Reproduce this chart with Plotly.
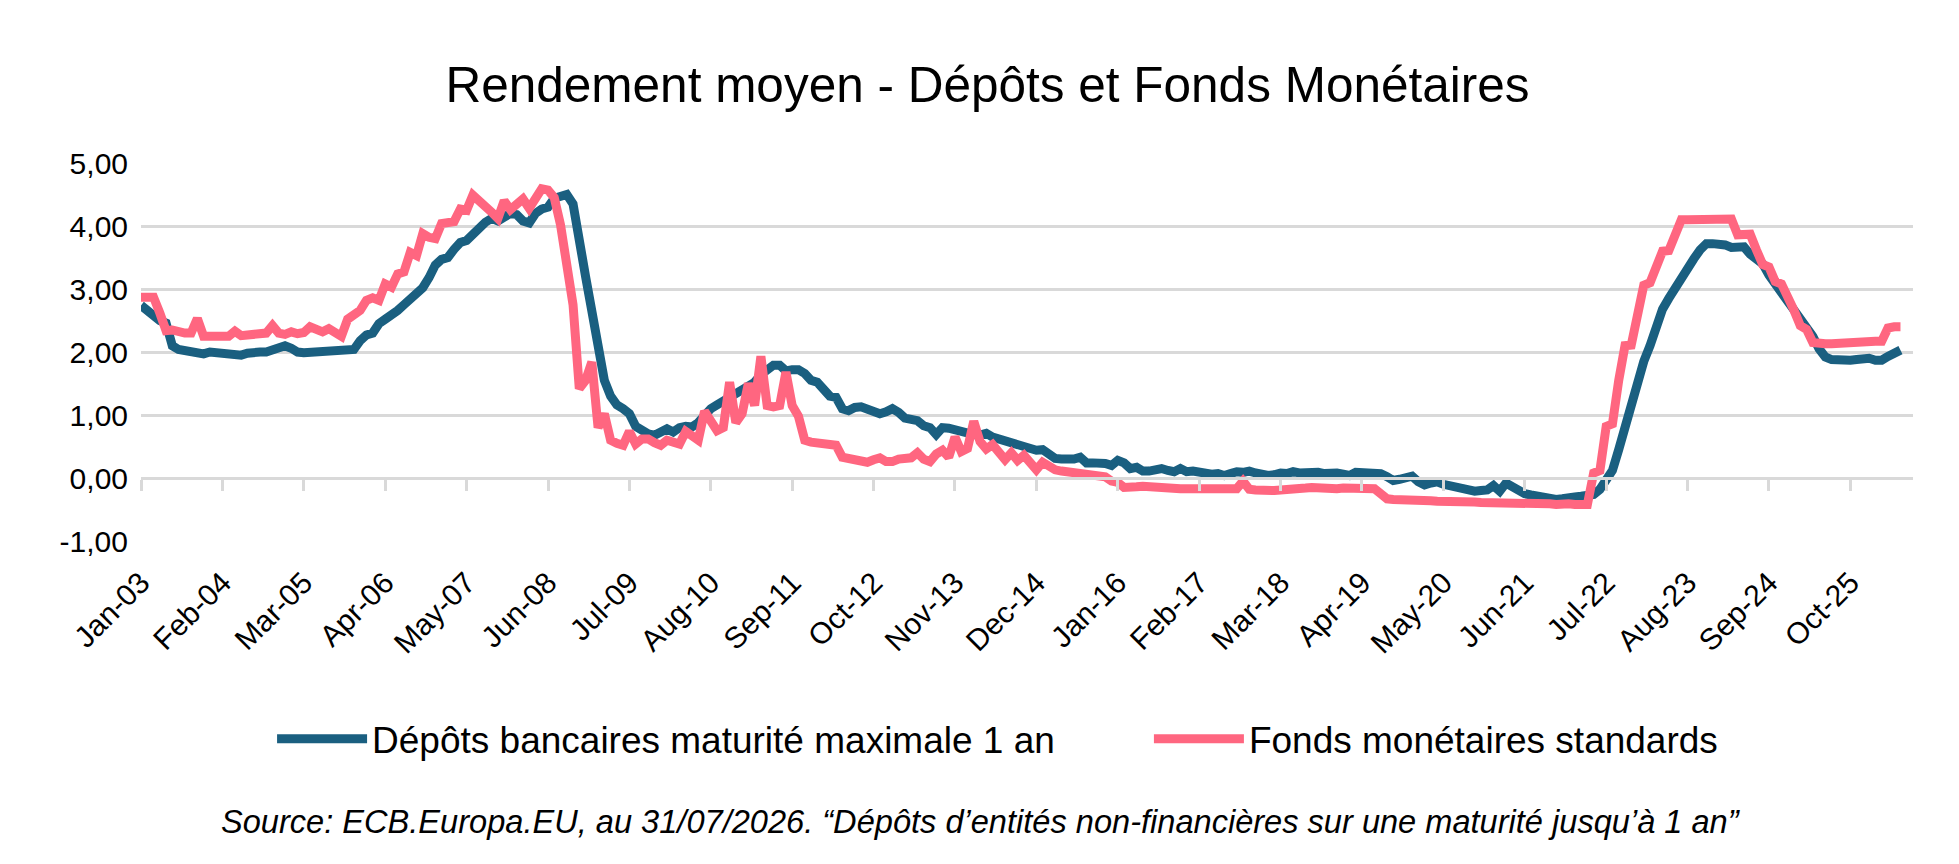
"""
Rendement moyen - Dépôts et Fonds Monétaires
Deux séries mensuelles (Jan-03 → Jun-26), axe catégoriel, libellés tous les 13 mois.
"""

import pandas as pd
import plotly.graph_objects as go

# ── Couleurs ─────────────────────────────────────────────────────────────────
C_DEPOTS = '#1A5F80'
C_FONDS  = '#FF6680'
C_GRID   = '#D9D9D9'
C_TEXT   = '#000000'
FONT     = 'Liberation Sans, Arial, sans-serif'

# ── Données (une ligne = une année) ──────────────────────────────────────────
DEPOTS = [
    2.74, 2.66, 2.57, 2.50, 2.46, 2.10, 2.04, 2.03, 2.02, 1.99, 1.97, 2.00,   # 2003
    1.99, 1.97, 1.95, 1.95, 1.95, 1.98, 2.00, 2.00, 2.00, 2.04, 2.06, 2.10,   # 2004
    2.06, 2.00, 1.99, 2.00, 2.00, 2.01, 2.01, 2.02, 2.03, 2.03, 2.04, 2.18,   # 2005
    2.27, 2.30, 2.45, 2.52, 2.58, 2.66, 2.75, 2.84, 2.93, 3.02, 3.18, 3.38,   # 2006
    3.47, 3.50, 3.63, 3.74, 3.77, 3.87, 4.00, 4.06, 4.12, 4.08, 4.14, 4.20,   # 2007
    4.18, 4.08, 4.05, 4.20, 4.27, 4.30, 4.44, 4.46, 4.50, 4.35, 3.85, 3.20,   # 2008
    2.65, 2.05, 1.55, 1.30, 1.16, 1.10, 1.02, 0.82, 0.74, 0.70, 0.68, 0.75,   # 2009
    0.78, 0.73, 0.80, 0.82, 0.81, 0.88, 1.00, 1.10, 1.16, 1.22, 1.26, 1.30,   # 2010
    1.36, 1.43, 1.52, 1.64, 1.72, 1.79, 1.79, 1.70, 1.72, 1.72, 1.66, 1.55,   # 2011
    1.52, 1.38, 1.30, 1.28, 1.10, 1.07, 1.12, 1.13, 1.10, 1.08, 1.02, 1.05,   # 2012
    1.10, 1.04, 0.95, 0.93, 0.91, 0.83, 0.80, 0.69, 0.80, 0.79, 0.76, 0.74,   # 2013
    0.71, 0.69, 0.68, 0.71, 0.65, 0.62, 0.61, 0.56, 0.52, 0.50, 0.49, 0.44,   # 2014
    0.45, 0.38, 0.31, 0.30, 0.29, 0.30, 0.33, 0.24, 0.24, 0.25, 0.23, 0.20,   # 2015
    0.28, 0.24, 0.15, 0.17, 0.11, 0.11, 0.13, 0.15, 0.12, 0.10, 0.15, 0.10,   # 2016
    0.11, 0.09, 0.06, 0.06, 0.07, 0.04, 0.07, 0.10, 0.09, 0.11, 0.08, 0.05,   # 2017
    0.04, 0.05, 0.08, 0.07, 0.10, 0.08, 0.09, 0.09, 0.09, 0.07, 0.08, 0.08,   # 2018
    0.06, 0.04, 0.09, 0.08, 0.06, 0.06, 0.07, 0.02, -0.04, -0.02, -0.01, 0.03,  # 2019
    -0.06, -0.11, -0.08, -0.06, -0.10, -0.12, -0.16, -0.19, -0.20, -0.21, -0.20, -0.19,  # 2020
    -0.12, -0.21, -0.08, -0.14, -0.20, -0.25, -0.27, -0.29, -0.33, -0.33, -0.34, -0.33,  # 2021
    -0.30, -0.30, -0.29, -0.29, -0.26, -0.18, -0.02, 0.12, 0.45, 0.80, 1.20, 1.60,  # 2022
    1.85, 2.10, 2.40, 2.68, 2.85, 3.02, 3.20, 3.32, 3.48, 3.62, 3.72, 3.72,   # 2023
    3.72, 3.70, 3.66, 3.68, 3.67, 3.55, 3.46, 3.40, 3.22, 3.08, 2.92, 2.80,   # 2024
    2.65, 2.50, 2.40, 2.25, 2.05, 1.92, 1.88, 1.87, 1.87, 1.87, 1.88, 1.89,   # 2025
    1.90, 1.87, 1.87, 1.93, 1.98, 2.03,                                       # 2026
]

FONDS = [
    2.87, 2.86, 2.87, 2.62, 2.34, 2.35, 2.32, 2.30, 2.30, 2.53, 2.25, 2.25,   # 2003
    2.25, 2.25, 2.25, 2.33, 2.26, 2.27, 2.29, 2.29, 2.30, 2.42, 2.30, 2.28,   # 2004
    2.32, 2.29, 2.31, 2.40, 2.34, 2.32, 2.37, 2.29, 2.25, 2.52, 2.58, 2.66,   # 2005
    2.82, 2.86, 2.82, 3.08, 3.03, 3.24, 3.27, 3.58, 3.53, 3.88, 3.82, 3.80,   # 2006
    4.04, 4.06, 4.07, 4.27, 4.25, 4.49, 4.40, 4.35, 4.22, 4.12, 4.40, 4.26,   # 2007
    4.36, 4.43, 4.28, 4.47, 4.59, 4.57, 4.45, 4.02, 3.45, 2.75, 1.42, 1.55,   # 2008
    1.84, 0.80, 1.02, 0.60, 0.55, 0.52, 0.74, 0.54, 0.62, 0.62, 0.56, 0.52,   # 2009
    0.60, 0.56, 0.54, 0.74, 0.68, 0.60, 1.06, 0.92, 0.75, 0.80, 1.52, 0.88,   # 2010
    1.02, 1.50, 1.15, 1.93, 1.15, 1.13, 1.15, 1.68, 1.15, 0.98, 0.60, 0.57,   # 2011
    0.56, 0.53, 0.53, 0.52, 0.33, 0.31, 0.31, 0.28, 0.25, 0.29, 0.32, 0.26,   # 2012
    0.26, 0.30, 0.31, 0.32, 0.40, 0.30, 0.26, 0.38, 0.44, 0.33, 0.65, 0.42,   # 2013
    0.47, 0.90, 0.58, 0.46, 0.53, 0.40, 0.29, 0.40, 0.28, 0.36, 0.22, 0.13,   # 2014
    0.25, 0.18, 0.13, 0.11, 0.10, 0.08, 0.07, 0.05, 0.05, 0.06, 0.02, -0.05,  # 2015
    -0.07, -0.15, -0.16, -0.14, -0.13, -0.14, -0.15, -0.16, -0.18, -0.18, -0.17, -0.17,  # 2016
    -0.17, -0.18, -0.18, -0.18, -0.18, -0.18, -0.18, -0.17, -0.05, -0.18, -0.19, -0.20,  # 2017
    -0.20, -0.20, -0.19, -0.19, -0.18, -0.17, -0.16, -0.15, -0.16, -0.18, -0.17, -0.17,  # 2018
    -0.16, -0.16, -0.16, -0.16, -0.16, -0.17, -0.25, -0.33, -0.34, -0.34, -0.34, -0.33,  # 2019
    -0.33, -0.35, -0.36, -0.37, -0.37, -0.38, -0.38, -0.37, -0.35, -0.38, -0.39, -0.39,  # 2020
    -0.38, -0.39, -0.39, -0.40, -0.39, -0.39, -0.40, -0.39, -0.40, -0.41, -0.42, -0.40,  # 2021
    -0.41, -0.42, -0.41, -0.42, 0.08, 0.12, 0.82, 0.86, 1.55, 2.10, 2.11, 2.60,  # 2022
    3.06, 3.10, 3.38, 3.60, 3.61, 3.86, 4.10, 4.10, 4.10, 4.10, 4.11, 4.10,   # 2023
    4.10, 4.11, 4.11, 3.86, 3.86, 3.87, 3.62, 3.39, 3.35, 3.12, 3.08, 2.90,   # 2024
    2.66, 2.42, 2.36, 2.15, 2.13, 2.13, 2.13, 2.14, 2.14, 2.14, 2.15, 2.16,   # 2025
    2.17, 2.17, 2.17, 2.38, 2.40, 2.40,                                       # 2026
]

# axe catégoriel : Jan-03 → Aug-26 (les deux derniers mois sans valeur)
MONTHS = list(pd.date_range('2003-01-01', periods=284, freq='MS').strftime('%b-%y'))
X_TICKS = MONTHS[::13][:22]            # Jan-03, Feb-04, ... Oct-25

Y_TICKS    = [-1, 0, 1, 2, 3, 4, 5]
Y_TICKTEXT = ['-1,00', '0,00', '1,00', '2,00', '3,00', '4,00', '5,00']

NAME_DEPOTS = 'Dépôts bancaires maturité maximale 1 an'
NAME_FONDS  = 'Fonds monétaires standards'
TITLE  = 'Rendement moyen - Dépôts et Fonds Monétaires'
SOURCE = ('Source: ECB.Europa.EU, au 31/07/2026. '
          '“Dépôts d’entités non-financières sur une maturité jusqu’à 1 an”')

# ── Figure ───────────────────────────────────────────────────────────────────
fig = go.Figure()
fig.add_trace(go.Scatter(
    x=MONTHS[:len(DEPOTS)], y=DEPOTS, name=NAME_DEPOTS, mode='lines',
    line=dict(color=C_DEPOTS, width=9), legend='legend',
))
fig.add_trace(go.Scatter(
    x=MONTHS[:len(FONDS)], y=FONDS, name=NAME_FONDS, mode='lines',
    line=dict(color=C_FONDS, width=9), legend='legend2',
))

# une légende par série pour placer chaque entrée comme dans l'original
LEGEND_BASE = dict(
    orientation='h', xref='container', yref='container',
    xanchor='left', y=0.1536, yanchor='middle',
    font=dict(size=37), itemwidth=90, bgcolor='rgba(0,0,0,0)',
)

# la page ajoute une marge de 8 px autour du graphique : on la compense ici
fig.update_layout(
    width=1959, height=864,
    margin=dict(l=133, r=54, t=155, b=331, autoexpand=False),
    paper_bgcolor='white', plot_bgcolor='white',
    font=dict(family=FONT, color=C_TEXT, size=30),
    title=dict(
        text=TITLE, font=dict(size=49.5, color=C_TEXT),
        x=0.5, xanchor='center', xref='container',
        y=0.911, yanchor='middle', yref='container',
    ),
    xaxis=dict(
        type='category', categoryorder='array', categoryarray=MONTHS,
        range=[0, 283],
        tickmode='array', tickvals=X_TICKS, ticktext=X_TICKS,
        tickangle=-45, tickfont=dict(size=30),
        anchor='free', position=1 / 6,          # ligne d'axe à 0,00
        showline=True, linecolor=C_GRID, linewidth=3,
        ticks='outside', ticklen=11, tickwidth=3, tickcolor=C_GRID,
        ticklabelstandoff=62,
        showgrid=False, zeroline=False, automargin=False,
    ),
    yaxis=dict(
        range=[-1, 5],
        tickmode='array', tickvals=Y_TICKS, ticktext=Y_TICKTEXT,
        tickfont=dict(size=30),
        showgrid=True, gridcolor=C_GRID, gridwidth=3,
        zeroline=False, showline=False, ticks='',
        ticklabelstandoff=12, automargin=False,
    ),
    legend=dict(LEGEND_BASE, x=0.1348),
    legend2=dict(LEGEND_BASE, x=0.5824),
    showlegend=True,
    hovermode='x unified',
)

fig.add_annotation(
    text=SOURCE, showarrow=False,
    xref='paper', yref='paper', x=0.474, y=-0.741,
    xanchor='center', yanchor='middle',
    font=dict(size=32.6, family=FONT, color=C_TEXT, style='italic'),
)

fig.write_html('out.html')
